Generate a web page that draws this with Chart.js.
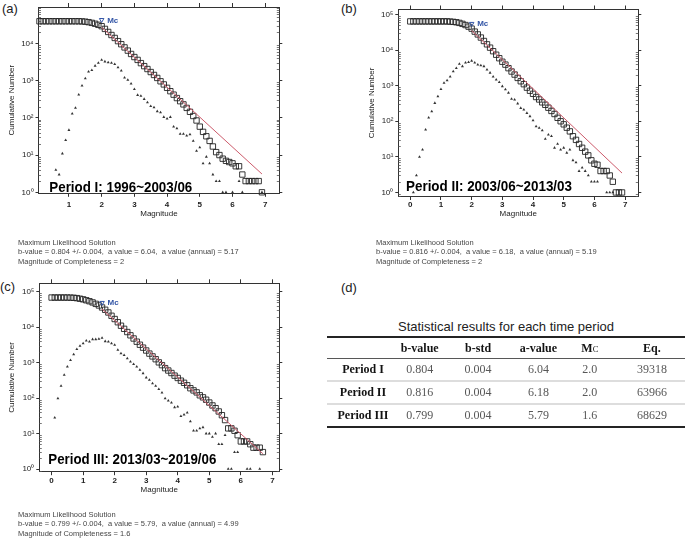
<!DOCTYPE html>
<html>
<head>
<meta charset="utf-8">
<script src="https://cdn.jsdelivr.net/npm/chart.js@4.4.0/dist/chart.umd.min.js"></script>
<style>
  html, body { margin: 0; padding: 0; background: #fff; overflow: hidden; }
  body { width: 685px; height: 544px; position: relative; font-family: "Liberation Sans", Arial, sans-serif; }
  canvas { position: absolute; }
  .tag { position: absolute; font-size: 13px; line-height: 15px; color: #222; }
  .mle { position: absolute; font-size: 7.5px; line-height: 9.3px; color: #444; white-space: pre; will-change: transform; opacity: 0.99; }
  #tableTitle { position: absolute; left: 327px; width: 358px; top: 319px; text-align: center; font-size: 13px; line-height: 16px; color: #222; }
  #stats { position: absolute; left: 327px; top: 336px; border-collapse: collapse; table-layout: fixed;
           font-family: "Liberation Serif", "Times New Roman", serif; font-size: 12px; will-change: transform; opacity: 0.99; }
  #stats th, #stats td { padding: 0; text-align: center; height: 21px; }
  #stats thead th { border-top: 2px solid #222; border-bottom: 1px solid #555; color: #111; height: 20px; }
  #stats tbody td { border-bottom: 2px solid #ddd; color: #555; }
  #stats tbody td.name { font-weight: bold; color: #111; }
  #stats tbody tr:last-child td { border-bottom: 2px solid #222; }
</style>
</head>
<body>

<div class="tag" style="left:2px; top:1px;">(a)</div>
<div class="tag" style="left:341px; top:1px;">(b)</div>
<div class="tag" style="left:0px; top:279px;">(c)</div>
<div class="tag" style="left:341px; top:280px;">(d)</div>

<canvas id="chartA" width="290" height="225" style="left:0px; top:0px;"></canvas>
<canvas id="chartB" width="290" height="225" style="left:360px; top:0px;"></canvas>
<canvas id="chartC" width="290" height="230" style="left:0px; top:270px;"></canvas>

<div class="mle" id="mleA" style="left:18px; top:238px;"></div>
<div class="mle" id="mleB" style="left:376px; top:238px;"></div>
<div class="mle" id="mleC" style="left:18px; top:510px;"></div>

<div id="tableTitle">Statistical results for each time period</div>
<table id="stats">
  <colgroup>
    <col style="width:74px"><col style="width:42px"><col style="width:78px">
    <col style="width:46px"><col style="width:60px"><col style="width:68px">
  </colgroup>
  <thead><tr id="statsHead"></tr></thead>
  <tbody id="statsBody"></tbody>
</table>

<script>
// Magnitude bins
const binsA = [0.1, 0.2, 0.3, 0.4, 0.5, 0.6, 0.7, 0.8, 0.9, 1.0,
  1.1, 1.2, 1.3, 1.4, 1.5, 1.6, 1.7, 1.8, 1.9, 2.0,
  2.1, 2.2, 2.3, 2.4, 2.5, 2.6, 2.7, 2.8, 2.9, 3.0,
  3.1, 3.2, 3.3, 3.4, 3.5, 3.6, 3.7, 3.8, 3.9, 4.0,
  4.1, 4.2, 4.3, 4.4, 4.5, 4.6, 4.7, 4.8, 4.9, 5.0,
  5.1, 5.2, 5.3, 5.4, 5.5, 5.6, 5.7, 5.8, 5.9, 6.0,
  6.1, 6.2, 6.3, 6.4, 6.5, 6.6, 6.7, 6.8, 6.9];
const binsB = [0.0, 0.1, 0.2, 0.3, 0.4, 0.5, 0.6, 0.7, 0.8, 0.9,
  1.0, 1.1, 1.2, 1.3, 1.4, 1.5, 1.6, 1.7, 1.8, 1.9,
  2.0, 2.1, 2.2, 2.3, 2.4, 2.5, 2.6, 2.7, 2.8, 2.9,
  3.0, 3.1, 3.2, 3.3, 3.4, 3.5, 3.6, 3.7, 3.8, 3.9,
  4.0, 4.1, 4.2, 4.3, 4.4, 4.5, 4.6, 4.7, 4.8, 4.9,
  5.0, 5.1, 5.2, 5.3, 5.4, 5.5, 5.6, 5.7, 5.8, 5.9,
  6.0, 6.1, 6.2, 6.3, 6.4, 6.5, 6.6, 6.7, 6.8, 6.9];
const binsC = [0.0, 0.1, 0.2, 0.3, 0.4, 0.5, 0.6, 0.7, 0.8, 0.9,
  1.0, 1.1, 1.2, 1.3, 1.4, 1.5, 1.6, 1.7, 1.8, 1.9,
  2.0, 2.1, 2.2, 2.3, 2.4, 2.5, 2.6, 2.7, 2.8, 2.9,
  3.0, 3.1, 3.2, 3.3, 3.4, 3.5, 3.6, 3.7, 3.8, 3.9,
  4.0, 4.1, 4.2, 4.3, 4.4, 4.5, 4.6, 4.7, 4.8, 4.9,
  5.0, 5.1, 5.2, 5.3, 5.4, 5.5, 5.6, 5.7, 5.8, 5.9,
  6.0, 6.1, 6.2, 6.3, 6.4, 6.5, 6.6, 6.7];

// Period I: cumulative (squares) and per-bin (triangles) counts
const cumA = [39300, 39300, 39300, 39300, 39300, 39300, 39300, 39300, 39300, 39300,
  39300, 39300, 39300, 39000, 38300, 37200, 35600, 33700, 31500, 29000,
  24500, 20300, 16800, 14000, 11500, 9500, 7800, 6400, 5200, 4300,
  3600, 2950, 2450, 2050, 1700, 1420, 1180, 960, 790, 640,
  520, 420, 340, 280, 230, 185, 145, 112, 85, 58,
  42, 32, 24, 17, 12, 10, 8, 7, 6.5, 6,
  5, 5, 3, 2, 2, 2, 2, 2, 1];
const nonCumA = [null, null, null, null, null, 4, 3, 11, 25, 47,
  130, 185, 420, 730, 1150, 1750, 1900, 2500, 3000, 3600,
  3250, 3100, 3000, 2750, 2250, 1850, 1200, 1050, 830, 590,
  410, 390, 320, 260, 205, 190, 150, 140, 105, 95,
  105, 58, 52, 37, 37, 33, 36, 24, 13, 16,
  6, 9, 6, 3, 2, 2, 1, 1, null, 1,
  null, 2, 1, null, null, null, null, null, 1];

// Period II
const cumB = [63900, 63900, 63900, 63900, 63900, 63900, 63900, 63900, 63900, 63900,
  63900, 63900, 63900, 63000, 62000, 60500, 58000, 54500, 50500, 45500,
  40000, 33000, 27500, 22500, 18000, 14500, 11700, 9300, 7400, 5900,
  4700, 3900, 3100, 2500, 2050, 1650, 1330, 1100, 880, 720,
  590, 480, 410, 340, 290, 240, 195, 160, 125, 100,
  82, 66, 52, 38, 30, 23, 18, 14, 11, 8,
  6.4, 6, 4, 4, 4, 3, 2, 1, 1, 1];
const nonCumB = [null, 1, 3, 10, 16, 58, 126, 190, 325, 500,
  800, 1200, 1400, 1800, 2500, 3100, 4100, 3500, 4400, 4600,
  5000, 4400, 3900, 3700, 3500, 2800, 2300, 1780, 1480, 1250,
  960, 780, 630, 425, 405, 315, 235, 213, 170, 138,
  106, 72, 65, 55, 32, 42, 38, 18, 23, 16,
  18, 13, 16, 8, 7, 4, 5, 4, 3, 2,
  2, 2, null, null, 1, 1, 1, null, null, null];

// Period III
const cumC = [68600, 68600, 68600, 68600, 68600, 68600, 68200, 67500, 66000, 63500,
  61000, 57500, 54000, 50000, 45500, 41000, 36000, 31000, 26000, 21000,
  17000, 13800, 11000, 9000, 7300, 5900, 4800, 3900, 3200, 2650,
  2200, 1800, 1500, 1250, 1020, 850, 700, 600, 510, 430,
  370, 310, 270, 230, 190, 165, 145, 120, 105, 90,
  75, 62, 52, 42, 33, 24, 14, 14, 12, 9,
  6, 6, 6, 5, 4, 4, 4, 3];
const nonCumC = [null, 28, 98, 220, 450, 770, 1180, 1700, 2400, 2950,
  3500, 4150, 3900, 4550, 4550, 4650, 5000, 4000, 3900, 3500,
  3150, 2280, 1830, 1630, 1320, 1070, 910, 770, 620, 500,
  380, 325, 260, 220, 178, 142, 98, 85, 74, 55,
  57, 31, 34, 39, 22, 12, 12, 14, 15, 10,
  10, 8, 10, 5, 5, 9, 1, 1, 3, 3,
  null, null, 1, 1, null, null, 1, null];

// Gutenberg-Richter fit line end points and Mc markers
const fitMagA = [2.0, 6.9], fitNA = [27000, 3.1];
const fitMagB = [2.0, 6.9], fitNB = [35300, 3.5];
const fitMagC = [1.6, 6.7], fitNC = [32500, 2.7];
const mcMagA = [2.0], mcNA = [43000];
const mcMagB = [2.0], mcNB = [55000];
const mcMagC = [1.6], mcNC = [49000];

// Axis ticks
const xTicksA = [1, 2, 3, 4, 5, 6, 7];
const xTicksBC = [0, 1, 2, 3, 4, 5, 6, 7];
const yTicks = [1, 10, 100, 1000, 10000, 100000];
const yTickLabels = ['10⁰', '10¹', '10²', '10³', '10⁴', '10⁵'];

// Text under each panel
const solutionA = ['Maximum Likelihood Solution',
  'b-value = 0.804 +/- 0.004,  a value = 6.04,  a value (annual) = 5.17',
  'Magnitude of Completeness = 2'];
const solutionB = ['Maximum Likelihood Solution',
  'b-value = 0.816 +/- 0.004,  a value = 6.18,  a value (annual) = 5.19',
  'Magnitude of Completeness = 2'];
const solutionC = ['Maximum Likelihood Solution',
  'b-value = 0.799 +/- 0.004,  a value = 5.79,  a value (annual) = 4.99',
  'Magnitude of Completeness = 1.6'];

// Table (d)
const tableHeaders = ['', 'b-value', 'b-std', 'a-value', 'M<span style="font-size:8.5px;font-weight:normal">C</span>', 'Eq.'];
const periodNames = ['Period I', 'Period II', 'Period III'];
const bValues = ['0.804', '0.816', '0.799'];
const bStd = ['0.004', '0.004', '0.004'];
const aValues = ['6.04', '6.18', '5.79'];
const mcValues = ['2.0', '2.0', '1.6'];
const eqCounts = ['39318', '63966', '68629'];

const FONT = '"Liberation Sans", Arial, sans-serif';

function points(xs, ys) {
    return xs.map((x, i) => ({ x: x, y: ys[i] })).filter(p => p.y !== null);
}

function setTicks(values) {
    return function (axis) {
        axis.ticks = values.filter(v => v >= axis.min && v <= axis.max).map(v => ({ value: v }));
    };
}

// Mc label, period label and minor log ticks
const panelText = {
    id: 'panelText',
    afterDatasetsDraw(chart, args, opts) {
        const { ctx, chartArea } = chart;
        ctx.save();
        const mc = chart.getDatasetMeta(0).data[0];
        ctx.fillStyle = '#3355a6';
        ctx.font = 'bold 8px ' + FONT;
        ctx.textBaseline = 'middle';
        ctx.fillText('Mc', mc.x + 5.5, mc.y + 0.5);

        ctx.fillStyle = '#000';
        ctx.font = 'bold 15px ' + FONT;
        ctx.textBaseline = 'alphabetic';
        ctx.fillText(opts.period, chartArea.left + opts.dx, chartArea.bottom - opts.dy, opts.maxWidth);

        const y = chart.scales.y;
        ctx.strokeStyle = '#555';
        ctx.lineWidth = 0.8;
        ctx.beginPath();
        for (let d = -1; d <= 5; d++) {
            for (let k = 2; k <= 9; k++) {
                const v = k * Math.pow(10, d);
                if (v < y.min || v > y.max) continue;
                const py = Math.round(y.getPixelForValue(v)) + 0.5;
                ctx.moveTo(chartArea.left, py); ctx.lineTo(chartArea.left + 2.5, py);
                ctx.moveTo(chartArea.right, py); ctx.lineTo(chartArea.right - 2.5, py);
            }
        }
        ctx.stroke();
        ctx.restore();
    }
};

function drawPanel(id, p) {
    const font8 = { family: FONT, size: 8 };
    const frame = { drawOnChartArea: false, color: '#333', lineWidth: 1 };
    new Chart(document.getElementById(id), {
        type: 'scatter',
        data: {
            datasets: [
                {
                    data: points(p.mcX, p.mcY), pointStyle: 'triangle', pointRotation: 180, pointRadius: 2.6,
                    pointBorderColor: '#3355a6', pointBackgroundColor: 'rgba(0,0,0,0)', pointBorderWidth: 1, clip: false
                },
                {
                    data: points(p.fitX, p.fitY), showLine: true, borderColor: '#cc5b6b', borderWidth: 1, pointRadius: 0
                },
                {
                    data: points(p.bins, p.cum), pointStyle: 'rect', pointRadius: 3.8,
                    pointBorderColor: '#222', pointBackgroundColor: 'rgba(0,0,0,0)', pointBorderWidth: 0.9, clip: false
                },
                {
                    data: points(p.bins, p.non), pointStyle: 'triangle', pointRadius: 1.7,
                    pointBorderWidth: 0, pointBackgroundColor: '#333', clip: false
                }
            ]
        },
        options: {
            responsive: false,
            animation: false,
            devicePixelRatio: 1,
            layout: { padding: 0 },
            plugins: {
                legend: { display: false },
                tooltip: { enabled: false },
                panelText: { period: p.period, dx: p.periodDx, dy: p.periodDy, maxWidth: p.periodWidth }
            },
            scales: {
                x: {
                    type: 'linear', position: 'bottom', min: p.xMin, max: p.xMax,
                    afterBuildTicks: setTicks(p.xTicks),
                    afterFit: s => { s.height = p.bottom; },
                    ticks: { font: { family: FONT, size: 8, weight: 'bold' }, color: '#222', padding: p.tickPad, maxRotation: 0, autoSkip: false },
                    grid: Object.assign({ tickLength: 3.5 }, frame),
                    border: { color: '#333' },
                    title: { display: true, text: 'Magnitude', font: font8, color: '#222', padding: { top: 0, bottom: p.titlePad } }
                },
                x2: {
                    type: 'linear', position: 'top', min: p.xMin, max: p.xMax,
                    afterBuildTicks: setTicks(p.xTicks),
                    afterFit: s => { s.height = p.top; },
                    ticks: { display: false },
                    grid: Object.assign({ tickLength: 4 }, frame),
                    border: { color: '#333' }
                },
                y: {
                    type: 'logarithmic', position: 'left', min: p.yMin, max: p.yMax,
                    afterBuildTicks: setTicks(yTicks),
                    afterFit: s => { s.width = p.left; },
                    ticks: { callback: v => yTickLabels[Math.round(Math.log10(v))], font: font8, color: '#222', padding: 2, autoSkip: false },
                    grid: Object.assign({ tickLength: 3 }, frame),
                    border: { color: '#333' },
                    title: { display: true, text: 'Cumulative Number', font: font8, color: '#222', padding: { top: 7.2, bottom: 0 } }
                },
                y2: {
                    type: 'logarithmic', position: 'right', min: p.yMin, max: p.yMax,
                    afterBuildTicks: setTicks(yTicks),
                    afterFit: s => { s.width = p.right; },
                    ticks: { display: false },
                    grid: Object.assign({ tickLength: 3 }, frame),
                    border: { color: '#333' }
                }
            }
        },
        plugins: [panelText]
    });
}

drawPanel('chartA', {
    bins: binsA, cum: cumA, non: nonCumA, fitX: fitMagA, fitY: fitNA, mcX: mcMagA, mcY: mcNA,
    xTicks: xTicksA, xMin: 0.07, xMax: 7.43, yMin: 0.94, yMax: 95000,
    left: 38.5, top: 7, right: 10.7, bottom: 31.7, tickPad: 3, titlePad: 6.7,
    period: 'Period I: 1996~2003/06', periodDx: 10.8, periodDy: 1.8, periodWidth: 143
});
drawPanel('chartB', {
    bins: binsB, cum: cumB, non: nonCumB, fitX: fitMagB, fitY: fitNB, mcX: mcMagB, mcY: mcNB,
    xTicks: xTicksBC, xMin: -0.39, xMax: 7.43, yMin: 0.77, yMax: 138000,
    left: 38.3, top: 9.5, right: 11.7, bottom: 28.5, tickPad: 0, titlePad: 6.7,
    period: 'Period II: 2003/06~2013/03', periodDx: 7.7, periodDy: 5.8, periodWidth: 166
});
drawPanel('chartC', {
    bins: binsC, cum: cumC, non: nonCumC, fitX: fitMagC, fitY: fitNC, mcX: mcMagC, mcY: mcNC,
    xTicks: xTicksBC, xMin: -0.39, xMax: 7.22, yMin: 0.84, yMax: 173000,
    left: 39.3, top: 13.3, right: 10.7, bottom: 28.3, tickPad: 0.7, titlePad: 5.2,
    period: 'Period III: 2013/03~2019/06', periodDx: 9, periodDy: 7.7, periodWidth: 168
});

// Text blocks
document.getElementById('mleA').textContent = solutionA.join('\n');
document.getElementById('mleB').textContent = solutionB.join('\n');
document.getElementById('mleC').textContent = solutionC.join('\n');

// Table
document.getElementById('statsHead').innerHTML = tableHeaders.map(h => '<th>' + h + '</th>').join('');
document.getElementById('statsBody').innerHTML = periodNames.map((name, i) =>
    '<tr><td class="name">' + name + '</td><td>' + bValues[i] + '</td><td>' + bStd[i] + '</td><td>' +
    aValues[i] + '</td><td>' + mcValues[i] + '</td><td>' + eqCounts[i] + '</td></tr>').join('');
</script>
</body>
</html>
